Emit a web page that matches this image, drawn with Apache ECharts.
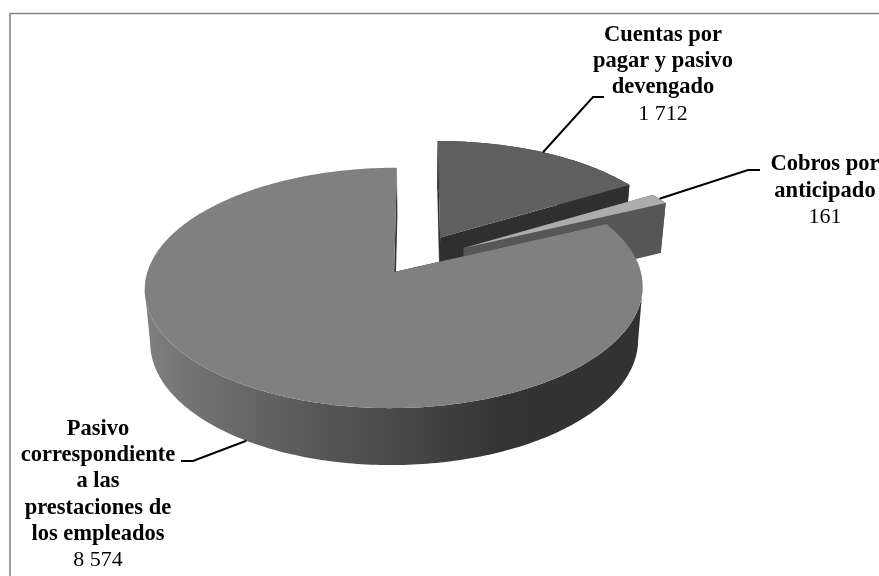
<!DOCTYPE html>
<html><head><meta charset="utf-8">
<style>html,body{margin:0;padding:0;background:#fff}#c{width:879px;height:576px}</style>
<script src="https://cdn.jsdelivr.net/npm/echarts@6/dist/echarts.min.js"></script>
</head><body><div id="c"></div>
<script>
// ---- data
const categories = ['Cuentas por\npagar y pasivo\ndevengado', 'Cobros por\nanticipado', 'Pasivo\ncorrespondiente\na las\nprestaciones de\nlos empleados'];
const values = [1712, 161, 8574];
const valueLabels = ['1 712', '161', '8 574'];

// ---- layout of the projected pie
const geo = {x0:418.5, y0:255.5, a:241.8, b:113.4, k:0.129, h:52, k2:0.075, shrink:0.98};
const explode = [0.185, 0.215, 0.185];
const nudgeY = [0, 4, -1.5];
const anchorOnBase = [false, false, true];
const elbows = [[[593,97],[604,97]], [[748,170],[760,170]], [[193,461],[181,461]]];
const labelBox = [{x:663,y:35}, {x:825,y:164.5}, {x:98,y:429}];
const lineH = 26.3;
const tops = ['#5f5f5f', '#acacac', '#808080'];
const radial = ['#2f2f2f', '#565656', '#333333'];
const wall = [
  '#2f2f2f', '#565656',
  {type:'linear',global:true,x:145,y:0,x2:640,y2:0,colorStops:[
    {offset:0,color:'#808080'},{offset:0.1,color:'#727272'},{offset:0.3,color:'#5c5c5c'},
    {offset:0.6,color:'#404040'},{offset:0.72,color:'#333333'},{offset:1,color:'#323232'}]}
];

const total = values.reduce((s,v)=>s+v,0);
function span(i){
  let s=0; for(let j=0;j<i;j++) s+=values[j];
  return [s/total*2*Math.PI,(s+values[i])/total*2*Math.PI];
}
function planePoint(i,th){
  const [s,e]=span(i), m=(s+e)/2, d=explode[i];
  return [d*Math.sin(m)+Math.sin(th), -d*Math.cos(m)-Math.cos(th), nudgeY[i]];
}
function apexPoint(i){
  const [s,e]=span(i), m=(s+e)/2, d=explode[i];
  return [d*Math.sin(m), -d*Math.cos(m), nudgeY[i]];
}
function topPt(p){const w=1-geo.k*p[1];return [geo.x0+geo.a*p[0]/w, geo.y0+p[2]+geo.b*p[1]/w];}
function basePt(p){const w=1-geo.k*p[1];return [geo.x0+geo.shrink*geo.a*p[0]/w, geo.y0+p[2]+geo.b*p[1]/w+geo.h/(1-geo.k2*p[1])];}

function renderItem(params){
  const i=params.dataIndex, [s,e]=span(i);
  const n=Math.max(8,Math.round((e-s)*60));
  const arc=[]; for(let t=0;t<=n;t++) arc.push(planePoint(i,s+(e-s)*t/n));
  const ap=apexPoint(i);
  const kids=[];
  const poly=(pts,fill,z)=>kids.push({type:'polygon',shape:{points:pts},style:{fill:fill,stroke:null},z2:z});
  // outer wall: only the part between the two horizontal extremes of the arc
  const xs=arc.map(p=>topPt(p)[0]);
  const iMin=xs.indexOf(Math.min(...xs)), iMax=xs.indexOf(Math.max(...xs));
  const front=arc.slice(Math.min(iMin,iMax),Math.max(iMin,iMax)+1);
  poly(front.map(topPt).concat(front.slice().reverse().map(basePt)),wall[i],1);
  // radial walls
  const first=arc[0], last=arc[arc.length-1];
  poly([topPt(ap),topPt(first),basePt(first),basePt(ap)],radial[i],2);
  poly([topPt(ap),topPt(last),basePt(last),basePt(ap)],radial[i],2);
  // top face
  poly([topPt(ap)].concat(arc.map(topPt)),tops[i],3);
  // leader line
  const mid=planePoint(i,(s+e)/2);
  const start=anchorOnBase[i]?basePt(mid):topPt(mid);
  kids.push({type:'polyline',shape:{points:[start].concat(elbows[i])},style:{fill:null,stroke:'#000',lineWidth:2},z2:4});
  // label
  const box=labelBox[i], lines=categories[i].split('\n');
  lines.forEach((t,j)=>kids.push({type:'text',z2:5,style:{text:t,x:box.x,y:box.y+j*lineH,align:'center',verticalAlign:'middle',
    font:'bold 22.5px "Liberation Serif", serif',fill:'#000'}}));
  kids.push({type:'text',z2:5,style:{text:valueLabels[i],x:box.x,y:box.y+lines.length*lineH,align:'center',verticalAlign:'middle',
    font:'22px "Liberation Serif", serif',fill:'#000'}});
  return {type:'group',children:kids};
}

const chart=echarts.init(document.getElementById('c'),null,{renderer:'canvas'});
chart.setOption({
  animation:false,
  backgroundColor:'#fff',
  graphic:[{type:'rect',z:-1,shape:{x:10,y:13.5,width:900,height:620},style:{fill:'#fff',stroke:'#868686',lineWidth:1.6}}],
  series:[{type:'custom',coordinateSystem:'none',renderItem:renderItem,clip:false,
    data:values.map((v,i)=>({name:categories[i].replace(/\n/g,' '),value:v}))}]
});
</script></body></html>
